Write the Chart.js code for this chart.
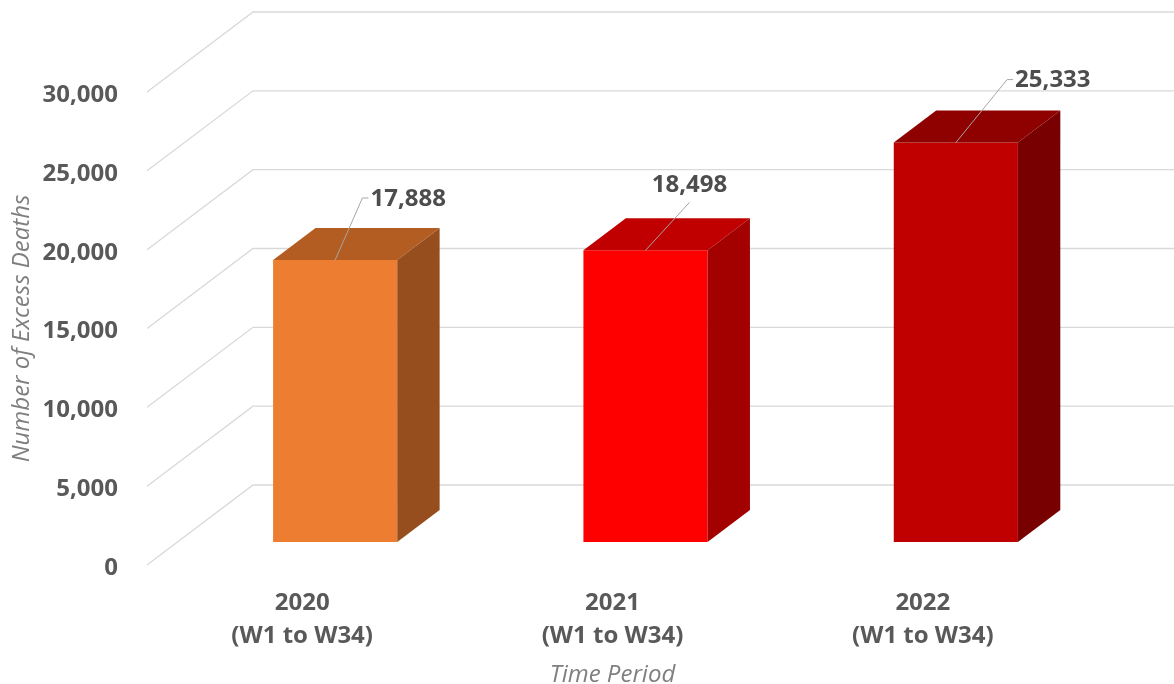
<!DOCTYPE html>
<html>
<head>
<meta charset="utf-8">
<script src="https://cdn.jsdelivr.net/npm/chart.js@4.4.1/dist/chart.umd.min.js"></script>
<style>
  html, body { margin: 0; padding: 0; background: #ffffff; }
  #wrap { width: 1174px; height: 684px; position: relative; }
</style>
</head>
<body>
<div id="wrap"><canvas id="c" width="1174" height="684"></canvas></div>
<script>
// ---- data ----
const categories = ['2020', '2021', '2022'];
const periodLabel = '(W1 to W34)';
const excessDeaths = [17888, 18498, 25333];
const yTickStep = 5000;
const yMax = 30000;

// ---- styles ----
const frontColors = ['#ED7D31', '#FF0000', '#C00000'];
const topColors   = ['#B45D23', '#C00000', '#8F0000'];
const sideColors  = ['#974E1E', '#A30000', '#780000'];
const labelOffsets = [[73, -63], [44, -67], [97, -64]];

// 3D geometry (pixels)
const FLOOR_DX = 106, FLOOR_DY = -80;   // full depth of floor / walls
const BAR_SHIFT_X = 33, BAR_SHIFT_Y = -23; // bar front plane offset from front floor edge
const BAR_DEPTH = 0.40;                 // bar depth as fraction of depth
const FONT = '"Open Sans", "DejaVu Sans", sans-serif';

const threeD = {
  id: 'threeD',
  beforeDatasetsDraw(chart) {
    const {ctx, chartArea, scales: {y}} = chart;
    ctx.save();
    ctx.strokeStyle = '#d9d9d9';
    ctx.lineWidth = 1.3;
    y.ticks.forEach(t => {
      const yf = y.getPixelForValue(t.value);
      ctx.beginPath();
      ctx.moveTo(chartArea.left, yf);
      ctx.lineTo(chartArea.left + FLOOR_DX, yf + FLOOR_DY);
      ctx.lineTo(chart.width, yf + FLOOR_DY);
      ctx.stroke();
    });
    ctx.restore();
  },
  beforeDatasetDraw(chart) {
    chart.ctx.save();
    chart.ctx.translate(BAR_SHIFT_X, BAR_SHIFT_Y);
  },
  afterDatasetDraw(chart, args) {
    const ctx = chart.ctx;
    const ddx = FLOOR_DX * BAR_DEPTH, ddy = FLOOR_DY * BAR_DEPTH;
    args.meta.data.forEach((bar, i) => {
      const {x, y, base, width} = bar.getProps(['x', 'y', 'base', 'width'], true);
      const l = x - width / 2, r = x + width / 2;
      ctx.fillStyle = topColors[i];
      ctx.beginPath();
      ctx.moveTo(l, y); ctx.lineTo(l + ddx, y + ddy); ctx.lineTo(r + ddx, y + ddy); ctx.lineTo(r, y);
      ctx.closePath(); ctx.fill();
      ctx.fillStyle = sideColors[i];
      ctx.beginPath();
      ctx.moveTo(r, y); ctx.lineTo(r + ddx, y + ddy); ctx.lineTo(r + ddx, base + ddy); ctx.lineTo(r, base);
      ctx.closePath(); ctx.fill();
    });
    ctx.restore();
  },
  afterDatasetsDraw(chart) {
    const ctx = chart.ctx;
    const meta = chart.getDatasetMeta(0);
    ctx.save();
    ctx.font = 'bold 24px ' + FONT;
    ctx.textAlign = 'center';
    ctx.textBaseline = 'middle';
    meta.data.forEach((bar, i) => {
      const {x, y} = bar.getProps(['x', 'y'], true);
      const bx = x + BAR_SHIFT_X, by = y + BAR_SHIFT_Y;
      const lx = bx + labelOffsets[i][0], ly = by + labelOffsets[i][1];
      const text = excessDeaths[i].toLocaleString('en-US');
      const halfW = ctx.measureText(text).width / 2;
      ctx.strokeStyle = '#a6a6a6';
      ctx.lineWidth = 1;
      ctx.beginPath();
      ctx.moveTo(bx, by);
      if (lx - halfW > bx + 10) {
        ctx.lineTo(lx - halfW - 8, ly + 1);
        ctx.lineTo(lx - halfW - 2, ly + 1);
      } else {
        ctx.lineTo(lx, ly + 19);
      }
      ctx.stroke();
      ctx.fillStyle = '#4d4d4d';
      ctx.fillText(text, lx, ly + 2);
    });
    ctx.restore();
  }
};

new Chart(document.getElementById('c'), {
  type: 'bar',
  data: {
    labels: categories.map(c => [c, periodLabel]),
    datasets: [{
      data: excessDeaths,
      backgroundColor: frontColors,
      borderWidth: 0,
      barPercentage: 0.4,
      categoryPercentage: 1.0,
      clip: false
    }]
  },
  options: {
    responsive: false,
    animation: false,
    layout: { padding: { top: 92, right: 96, bottom: 0, left: 0 } },
    plugins: { legend: { display: false }, tooltip: { enabled: false } },
    scales: {
      x: {
        grid: { display: false, drawTicks: false },
        border: { display: false },
        ticks: {
          color: '#595959',
          font: { family: FONT, size: 24, weight: 'bold', lineHeight: 1.375 },
          padding: 22,
          maxRotation: 0
        },
        title: {
          display: true,
          text: 'Time Period',
          color: '#7f7f7f',
          font: { family: FONT, size: 24, style: 'italic', lineHeight: 0.75 },
          padding: { top: 0, bottom: 0 }
        },
        afterFit(s) { s.height = 119; }
      },
      y: {
        min: 0,
        max: yMax,
        grid: { display: false, drawTicks: false },
        border: { display: false },
        ticks: {
          stepSize: yTickStep,
          color: '#595959',
          font: { family: FONT, size: 24, weight: 'bold' },
          padding: 29,
          labelOffset: 3,
          callback: v => v.toLocaleString('en-US')
        },
        title: {
          display: true,
          text: 'Number of Excess Deaths',
          color: '#7f7f7f',
          font: { family: FONT, size: 24, style: 'italic' },
          padding: { top: 8, bottom: 0 }
        },
        afterFit(s) { s.width = 147; }
      }
    }
  },
  plugins: [threeD]
});
</script>
</body>
</html>
